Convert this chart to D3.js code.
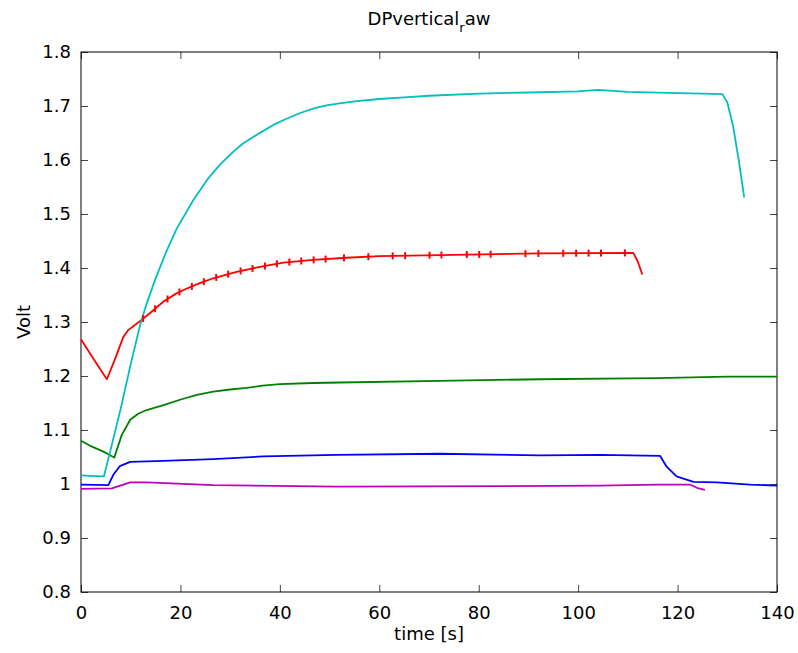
<!DOCTYPE html>
<html>
<head>
<meta charset="utf-8">
<script src="https://cdn.jsdelivr.net/npm/d3@7"></script>
<style>
  body { margin: 0; background: #fff; }
  text { font-family: 'DejaVu Sans', sans-serif; fill: #000; }
</style>
</head>
<body>
<div id="chart"></div>
<script>
'use strict'

// x ticks / y ticks
const xTicks = [0, 20, 40, 60, 80, 100, 120, 140]
const yTicks = [0.8, 0.9, 1.0, 1.1, 1.2, 1.3, 1.4, 1.5, 1.6, 1.7, 1.8]

// cyan trace
const tCyan = [0, 2, 4.6, 6, 8, 10, 12, 13.2, 14.9, 17, 19.25, 22.6, 25.6, 28, 30.6, 32.5, 34.7, 36.5, 38.7, 41, 44.1, 47, 49.4, 52, 55.5, 60, 65, 70, 80, 90, 100, 104, 110, 120, 125, 129, 130, 131.2, 132.3, 133.4]
const vCyan = [1.016, 1.015, 1.014, 1.065, 1.14, 1.222, 1.298, 1.334, 1.378, 1.427, 1.473, 1.526, 1.566, 1.592, 1.615, 1.630, 1.643, 1.653, 1.665, 1.675, 1.687, 1.696, 1.701, 1.705, 1.709, 1.713, 1.716, 1.719, 1.723, 1.725, 1.727, 1.730, 1.726, 1.724, 1.723, 1.722, 1.707, 1.661, 1.60, 1.531]

// red trace
const tRed = [0, 2.5, 5.2, 7, 8.5, 9.5, 11.9, 14.2, 16.6, 19.2, 21.3, 23.9, 26.6, 31.3, 36, 40.7, 46.7, 53.4, 60.1, 72.2, 92.3, 111.1, 112.0, 112.9]
const vRed = [1.268, 1.232, 1.194, 1.235, 1.272, 1.285, 1.302, 1.319, 1.338, 1.353, 1.362, 1.372, 1.381, 1.393, 1.402, 1.410, 1.415, 1.419, 1.422, 1.424, 1.427, 1.428, 1.412, 1.388]
// little spikes seen on the red trace
const redSpikes = [12.5, 14.9, 17.4, 19.8, 22.3, 24.7, 27.2, 29.6, 32.1, 34.5, 37.0, 39.4, 41.9, 44.3, 46.8, 49.2, 52.9, 57.8, 62.7, 65.2, 70.1, 72.5, 77.6, 80.1, 82.4, 89.4, 92.0, 97.0, 99.6, 102.1, 104.6, 109.4]

// green trace
const tGreen = [0, 2, 4.5, 6.7, 8.2, 9.9, 11.5, 13.2, 16.6, 19.9, 23.3, 26.6, 30, 33.3, 36.5, 40, 46.7, 52, 72.2, 92.3, 115.8, 130, 140]
const vGreen = [1.080, 1.070, 1.060, 1.049, 1.091, 1.119, 1.130, 1.137, 1.146, 1.156, 1.165, 1.171, 1.175, 1.178, 1.182, 1.185, 1.187, 1.188, 1.191, 1.194, 1.196, 1.199, 1.199]

// blue trace
const tBlue = [0, 5.5, 6.5, 7.8, 9.9, 16.6, 26.6, 36.7, 51.4, 72.2, 92.3, 104.4, 116.5, 117.8, 119.8, 123.2, 127.9, 134.6, 140]
const vBlue = [0.999, 0.998, 1.017, 1.033, 1.041, 1.043, 1.046, 1.051, 1.054, 1.056, 1.053, 1.054, 1.052, 1.032, 1.014, 1.004, 1.003, 0.999, 0.997]

// magenta trace
const tMag = [0, 6.2, 9.9, 13.2, 26.6, 51.4, 85.6, 104.4, 115.8, 122.5, 123.9, 125.5]
const vMag = [0.991, 0.992, 1.003, 1.003, 0.998, 0.995, 0.996, 0.997, 0.999, 0.999, 0.993, 0.989]

const series = [
  { t: tGreen, v: vGreen, color: '#008000' },
  { t: tBlue, v: vBlue, color: '#0000ff' },
  { t: tMag, v: vMag, color: '#bf00bf' },
  { t: tRed, v: vRed, color: '#ff0000' },
  { t: tCyan, v: vCyan, color: '#00bfbf' }
]

const width = 798
const height = 653
const margin = { left: 81, right: 21, top: 52, bottom: 61 }
const iw = width - margin.left - margin.right
const ih = height - margin.top - margin.bottom

const svg = d3.select('#chart').append('svg')
  .attr('width', width)
  .attr('height', height)

const x = d3.scaleLinear().domain([0, 140]).range([margin.left, margin.left + iw])
const y = d3.scaleLinear().domain([0.8, 1.8]).range([margin.top + ih, margin.top])

const fmtY = d => (d === 1 ? '1' : d3.format('.1f')(d))

// axes: ticks inward on all four sides
svg.append('g')
  .attr('transform', 'translate(0,' + (margin.top + ih) + ')')
  .call(d3.axisBottom(x).tickValues(xTicks).tickSizeInner(-7).tickSizeOuter(0).tickPadding(14))
svg.append('g')
  .attr('transform', 'translate(0,' + margin.top + ')')
  .call(d3.axisTop(x).tickValues(xTicks).tickSizeInner(-7).tickSizeOuter(0).tickFormat(''))
svg.append('g')
  .attr('transform', 'translate(' + margin.left + ',0)')
  .call(d3.axisLeft(y).tickValues(yTicks).tickSizeInner(-7).tickSizeOuter(0).tickPadding(10).tickFormat(fmtY))
svg.append('g')
  .attr('transform', 'translate(' + (margin.left + iw) + ',0)')
  .call(d3.axisRight(y).tickValues(yTicks).tickSizeInner(-7).tickSizeOuter(0).tickFormat(''))

svg.selectAll('.domain').remove()
svg.selectAll('.tick line').attr('stroke', '#444')
svg.selectAll('.tick text')
  .style('font-family', "'DejaVu Sans', sans-serif")
  .style('font-size', '18px')
  .attr('fill', '#000')

svg.append('rect')
  .attr('x', margin.left)
  .attr('y', margin.top)
  .attr('width', iw)
  .attr('height', ih)
  .attr('fill', 'none')
  .attr('stroke', '#000')
  .attr('stroke-width', 1)

const line = d3.line()
  .x(d => x(d[0]))
  .y(d => y(d[1]))

series.forEach(s => {
  svg.append('path')
    .datum(s.t.map((t, i) => [t, s.v[i]]))
    .attr('fill', 'none')
    .attr('stroke', s.color)
    .attr('stroke-width', 1.8)
    .attr('stroke-linejoin', 'round')
    .attr('d', line)
})

// spikes on the red trace
const redAt = d3.scaleLinear().domain(tRed).range(vRed)
svg.append('g').selectAll('line')
  .data(redSpikes)
  .join('line')
  .attr('x1', d => x(d))
  .attr('x2', d => x(d))
  .attr('y1', d => y(redAt(d)) - 3.5)
  .attr('y2', d => y(redAt(d)) + 3.5)
  .attr('stroke', '#ff0000')
  .attr('stroke-width', 2)

// title with TeX-like subscript
const title = svg.append('text')
  .attr('x', margin.left + iw / 2)
  .attr('y', 25)
  .attr('text-anchor', 'middle')
  .style('font-size', '18px')
title.append('tspan').text('DPvertical')
title.append('tspan').attr('dy', 7).style('font-size', '13px').text('r')
title.append('tspan').attr('dy', -7).text('aw')

svg.append('text')
  .attr('x', margin.left + iw / 2)
  .attr('y', 640)
  .attr('text-anchor', 'middle')
  .style('font-size', '18px')
  .text('time [s]')

svg.append('text')
  .attr('transform', 'translate(30,' + (margin.top + ih / 2) + ') rotate(-90)')
  .attr('text-anchor', 'middle')
  .style('font-size', '18px')
  .text('Volt')
</script>
</body>
</html>
